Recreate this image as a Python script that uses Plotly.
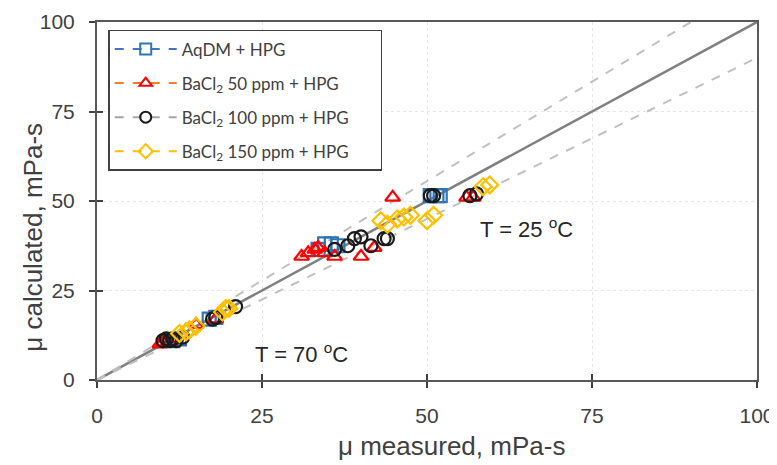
"""Calculated vs measured viscosity parity plot."""

import plotly.graph_objects as go

# AqDM + HPG (blue squares)
aqdm_x = [11.5, 12.5, 17.0, 18.0, 33.5, 34.5, 35.5, 36.5, 50.5, 51.5, 52.0]
aqdm_y = [11.0, 11.5, 17.0, 17.5, 36.5, 38.0, 38.0, 37.5, 51.5, 51.5, 51.5]

# BaCl2 50 ppm + HPG (red triangles)
ba50_x = [9.5, 10.0, 11.0, 15.0, 18.0, 31.0, 32.0, 33.0, 33.5, 34.5, 36.0, 40.0, 42.0, 44.8, 56.0, 57.0]
ba50_y = [10.0, 10.5, 10.5, 15.5, 17.0, 34.5, 35.5, 36.5, 37.0, 35.5, 34.5, 34.5, 37.0, 51.0, 51.0, 51.0]

# BaCl2 100 ppm + HPG (black circles)
ba100_x = [10.0, 10.5, 11.0, 11.5, 12.0, 13.0, 17.5, 18.0, 21.0, 36.0, 38.0, 39.0, 40.0, 41.5, 43.5, 44.0, 50.5, 51.0, 56.5, 57.5]
ba100_y = [11.0, 11.5, 11.0, 11.5, 11.0, 12.0, 17.0, 17.5, 20.5, 36.5, 37.5, 39.5, 40.0, 37.5, 39.5, 39.5, 51.5, 51.5, 51.5, 52.0]

# BaCl2 150 ppm + HPG (yellow diamonds)
ba150_x = [12.5, 13.5, 14.0, 15.0, 19.0, 19.5, 20.0, 43.0, 44.0, 45.5, 46.5, 47.5, 50.0, 51.0, 58.5, 59.5]
ba150_y = [13.0, 13.5, 14.0, 15.0, 19.0, 20.0, 20.0, 44.5, 43.5, 45.0, 45.5, 46.0, 44.5, 46.0, 54.0, 54.5]

# parity line and +/-10 % bands
line_x = [0, 100]
band_factors = [1 / 0.9, 0.9]

tick_vals = [0, 25, 50, 75, 100]

series = [
    ("AqDM + HPG", aqdm_x, aqdm_y, "square-open", "#2E75B6", "#4472C4"),
    ("BaCl<sub>2</sub> 50 ppm + HPG", ba50_x, ba50_y, "triangle-up-open", "#FF0000", "#ED7D31"),
    ("BaCl<sub>2</sub> 100 ppm + HPG", ba100_x, ba100_y, "circle-open", "#1A1A1A", "#A5A5A5"),
    ("BaCl<sub>2</sub> 150 ppm + HPG&nbsp;&nbsp;&nbsp;&nbsp;&nbsp;&nbsp;", ba150_x, ba150_y, "diamond-open", "#FFC000", "#FFC000"),
]

fig = go.Figure()

fig.add_trace(go.Scatter(
    x=line_x, y=line_x, mode="lines", showlegend=False,
    line=dict(color="#808080", width=2.5),
))
for f in band_factors:
    fig.add_trace(go.Scatter(
        x=line_x, y=[v * f for v in line_x], mode="lines", showlegend=False,
        line=dict(color="#C0C0C0", width=2, dash="dash"),
    ))

for i, (name, xs, ys, sym, mcol, lcol) in enumerate(series):
    fig.add_trace(go.Scatter(
        x=xs, y=ys, mode="markers", showlegend=False,
        marker=dict(symbol=sym, size=13, color=mcol, line=dict(width=2.2, color=mcol)),
    ))
    # legend entry with the dashed line style
    fig.add_trace(go.Scatter(
        x=[None], y=[None], mode="lines+markers", name=name, legendgroup=f"g{i}",
        line=dict(color=lcol, width=2, dash="dash"),
        marker=dict(symbol=sym, size=11, color=mcol, line=dict(width=2, color=mcol)),
    ))

# overlay axes to get ticks crossing the axis line
fig.add_trace(go.Scatter(x=[None], y=[None], xaxis="x2", yaxis="y2", showlegend=False))

ax_common = dict(
    range=[0, 100], tickvals=tick_vals, showline=True, linecolor="#595959", linewidth=2,
    mirror=True, ticks="outside", ticklen=6, tickwidth=1.5, tickcolor="#404040",
    showgrid=True, gridcolor="#E6E6E6", griddash="dot", gridwidth=1, zeroline=False,
    automargin=False, ticklabelstandoff=10,
    tickfont=dict(family="Liberation Sans, Arial", size=21, color="#404040"),
)

title_font = dict(family="Liberation Sans, Arial", size=26, color="#404040")

fig.update_layout(
    width=769, height=457,
    margin=dict(l=89, r=20, t=14, b=85),
    plot_bgcolor="white", paper_bgcolor="white",
    xaxis=dict(ax_common),
    yaxis=dict(ax_common),
    xaxis2=dict(range=[0, 100], tickvals=tick_vals, overlaying="x", ticks="inside", ticklen=6,
                tickwidth=1.5, tickcolor="#404040", showticklabels=False, showgrid=False,
                zeroline=False, showline=False, automargin=False),
    yaxis2=dict(range=[0, 100], tickvals=tick_vals, overlaying="y", ticks="inside", ticklen=6,
                tickwidth=1.5, tickcolor="#404040", showticklabels=False, showgrid=False,
                zeroline=False, showline=False, automargin=False),
    legend=dict(
        x=0.017, y=0.978, xanchor="left", yanchor="top",
        bgcolor="white", bordercolor="#404040", borderwidth=1.5,
        font=dict(family="Lato, Open Sans", size=17, color="#404040"),
        itemwidth=62, tracegroupgap=9,
    ),
    annotations=[
        dict(x=0.537, y=-0.183, xref="paper", yref="paper", text="μ measured, mPa-s",
             showarrow=False, xanchor="center", yanchor="middle", font=title_font),
        dict(x=-0.097, y=0.40, xref="paper", yref="paper", text="μ calculated, mPa-s",
             showarrow=False, textangle=-90, xanchor="center", yanchor="middle", font=title_font),
        dict(x=65, y=42.5, xref="x", yref="y", text="T = 25 <sup>o</sup>C", showarrow=False,
             font=dict(family="Liberation Sans, Arial", size=22, color="#262626")),
        dict(x=31, y=7.5, xref="x", yref="y", text="T = 70 <sup>o</sup>C", showarrow=False,
             font=dict(family="Liberation Sans, Arial", size=22, color="#262626")),
    ],
)

fig.write_html("out.html")
